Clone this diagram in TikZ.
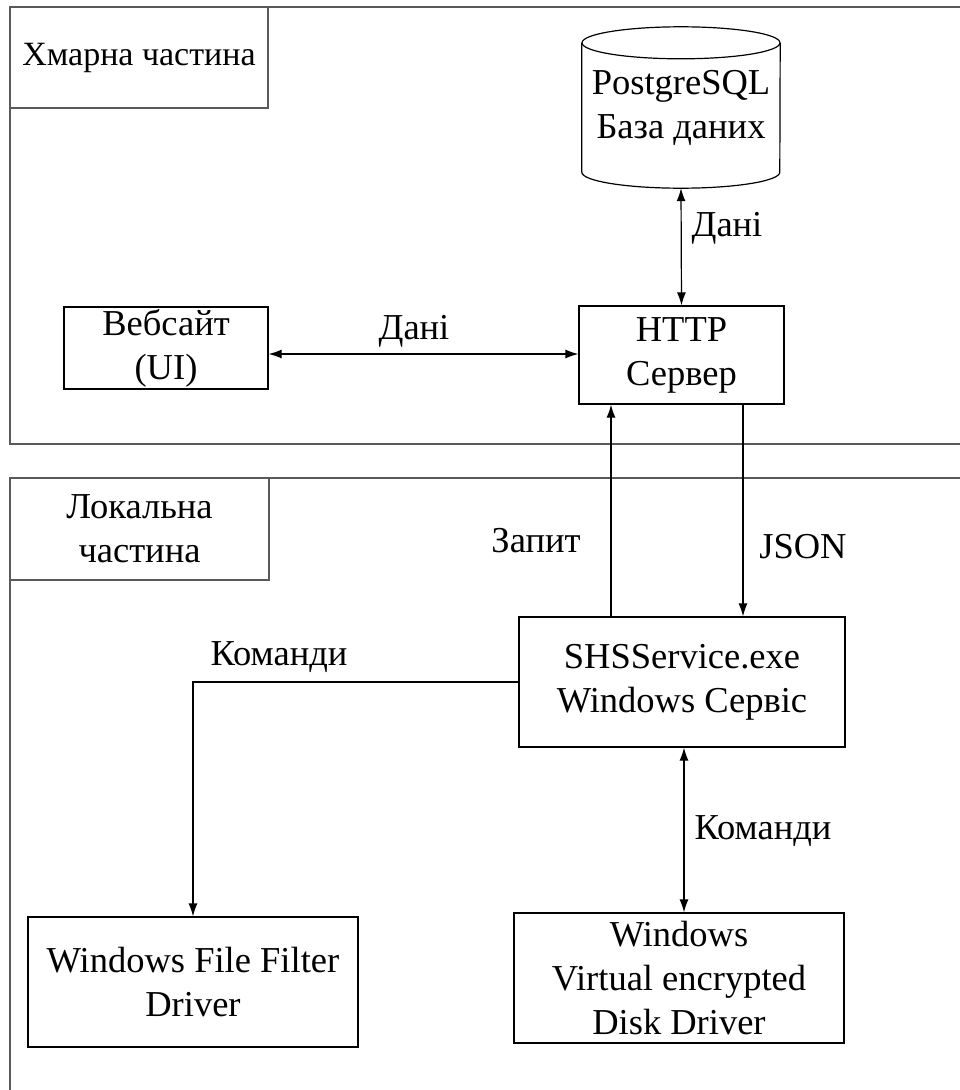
\documentclass[tikz,border=0pt]{standalone}
\usepackage{fontspec}
\setmainfont{Liberation Serif}
\usetikzlibrary{arrows.meta}

\begin{document}
\begin{tikzpicture}[
    x=1pt, y=-1pt,
    font=\fontsize{36.5}{44}\selectfont,
    box_node/.style={rectangle, draw, line width=1.2pt, inner sep=0pt, align=center},
    frame_node/.style={rectangle, draw=black!65, line width=1.4pt, inner sep=0pt, align=center},
    label_node/.style={inner sep=0pt},
    directed/.style={-{Latex[length=13pt,width=9pt]}, line width=1.2pt},
    both_ways/.style={{Latex[length=13pt,width=9pt]}-{Latex[length=13pt,width=9pt]}, line width=1.2pt}
]
    \clip (0,0) rectangle (960,1090);
    % cloud and local frames
    \draw[draw=black!65, line width=1.4pt] (10,7) rectangle (980,444);
    \draw[draw=black!65, line width=1.4pt] (10,478) rectangle (980,1110);
    \node[frame_node, minimum width=258pt, minimum height=101pt, font=\fontsize{34}{44}\selectfont] (cloud) at (139,57.5) {Хмарна частина};
    \node[frame_node, minimum width=259pt, minimum height=102pt] (local) at (139.5,529) {Локальна\\частина};

    % database
    \node[inner sep=0pt, minimum width=198pt, minimum height=161pt, align=center] (db) at (681,107.5) {PostgreSQL\\База даних};
    \draw[line width=1.2pt] ([yshift=-16pt]db.north) ellipse [x radius=99pt, y radius=16pt];
    \draw[line width=1.2pt] ([yshift=-16pt]db.north west) -- ([yshift=16pt]db.south west)
        arc[start angle=180, end angle=360, x radius=99pt, y radius=16pt]
        -- ([yshift=-16pt]db.north east);

    \node[box_node, minimum width=205pt, minimum height=98pt] (http) at (681.5,355) {HTTP\\Сервер};
    \node[box_node, minimum width=204pt, minimum height=82pt] (web) at (166,348) {Вебсайт\\(UI)};
    \node[box_node, minimum width=326pt, minimum height=130pt] (shs) at (682,682) {SHSService.exe\\Windows Сервіс};
    \node[box_node, minimum width=330pt, minimum height=130pt] (wffd) at (193,982) {Windows File Filter\\Driver};
    \node[box_node, minimum width=330pt, minimum height=130pt] (wved) at (679,978) {Windows\\Virtual encrypted\\Disk Driver};

    \draw[both_ways] (db.south) -- (http.north);
    \draw[both_ways] ([yshift=-6pt]web.east) -- ([yshift=-6pt]web.east -| http.west);
    \draw[directed] ([xshift=-71pt]shs.north) -- ([xshift=-71pt]shs.north |- http.south);
    \draw[directed] ([xshift=61.5pt]http.south) -- ([xshift=61.5pt]http.south |- shs.north);
    \draw[directed] (shs.west) -| (wffd.north);
    \draw[both_ways] ([xshift=2pt]shs.south) -- ([xshift=2pt]shs.south |- wved.north);

    \node[label_node] (l_data1) at (727,228) {Дані};
    \node[label_node] (l_data2) at (414,331) {Дані};
    \node[label_node] (l_req) at (536,541) {Запит};
    \node[label_node] (l_json) at (803,547) {JSON};
    \node[label_node] (l_cmd1) at (279,657) {Команди};
    \node[label_node] (l_cmd2) at (763,831) {Команди};
\end{tikzpicture}
\end{document}
